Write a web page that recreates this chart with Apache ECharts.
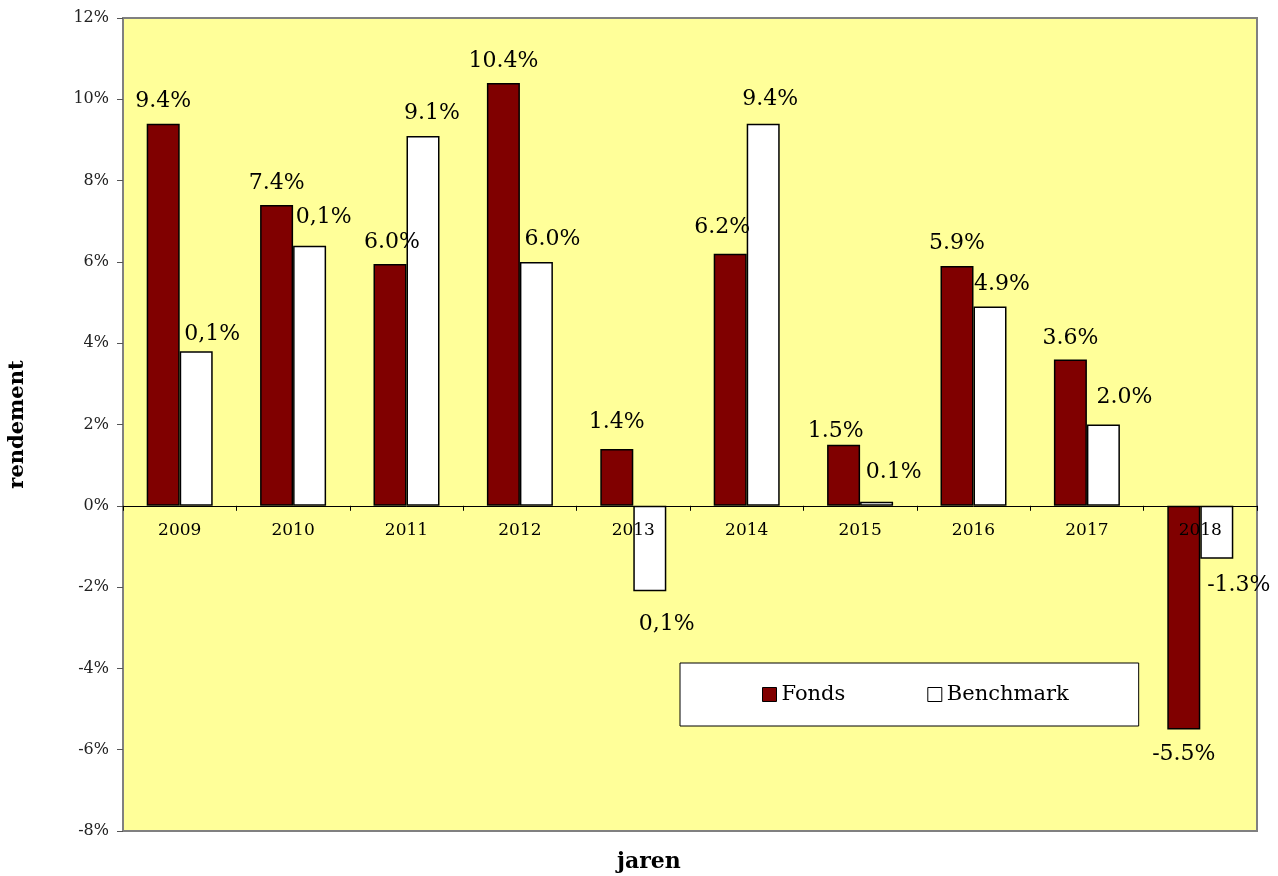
<!DOCTYPE html>
<html>
<head>
<meta charset="utf-8">
<script src="https://cdn.jsdelivr.net/npm/echarts@6/dist/echarts.min.js"></script>
<style>
html,body{margin:0;padding:0;background:#fff;}
#chart{width:1278px;height:876px;}
</style>
</head>
<body>
<div id="chart"></div>
<script>
// ---- data ----
const years = ['2009','2010','2011','2012','2013','2014','2015','2016','2017','2018'];
const fonds = [9.4, 7.4, 5.95, 10.4, 1.4, 6.2, 1.5, 5.9, 3.6, -5.5];
const benchmark = [3.8, 6.4, 9.1, 6.0, -2.1, 9.4, 0.1, 4.9, 2.0, -1.3];
const fondsLabels = ['9.4%','7.4%','6.0%','10.4%','1.4%','6.2%','1.5%','5.9%','3.6%','-5.5%'];
const benchLabels = ['0,1%','0,1%','9.1%','6.0%','0,1%','9.4%','0.1%','4.9%','2.0%','-1.3%'];
const yTicks = {min: -8, max: 12, interval: 2};

// label placement tweaks (layout only)
const fondsShift = [[0,0],[0,0],[2,0],[0,0],[0,-5],[-8,-4],[-8,8],[0,-1],[0,1],[0,3]];
const benchShift = [[16,5],[14,-6],[9,-1],[16,-1],[17,11],[7,-2],[17,-7],[12,0],[21,-5],[22,5]];

const FONT = '"DejaVu Serif", "Liberation Serif", serif';

function build(values, labels, shift) {
  return values.map((v, i) => ({
    value: v,
    label: {
      show: true,
      position: v < 0 ? 'bottom' : 'top',
      distance: 11,
      offset: shift[i],
      formatter: labels[i]
    }
  }));
}

const gridTop = 18, gridBottom = 45, chartH = 876;
const plotH = chartH - gridTop - gridBottom;
const zeroFromBottom = plotH * (0 - yTicks.min) / (yTicks.max - yTicks.min);

const chart = echarts.init(document.getElementById('chart'));
chart.setOption({
  backgroundColor: '#ffffff',
  animation: false,
  textStyle: {fontFamily: FONT},
  grid: {
    left: 123, right: 21, top: gridTop, bottom: gridBottom,
    containLabel: false, outerBoundsMode: 'none',
    show: true, backgroundColor: '#FFFF99', borderColor: '#808080', borderWidth: 2
  },
  legend: {
    left: 680, top: 663,
    padding: [21, 70, 21, 82],
    itemGap: 82,
    itemWidth: 14, itemHeight: 14,
    backgroundColor: '#ffffff',
    borderColor: '#000000', borderWidth: 1,
    textStyle: {fontFamily: FONT, fontSize: 21, color: '#000'},
    data: [
      {name: 'Fonds', icon: 'rect', itemStyle: {color: '#800000', borderColor: '#000', borderWidth: 1}},
      {name: 'Benchmark', icon: 'rect', itemStyle: {color: '#ffffff', borderColor: '#000', borderWidth: 1}}
    ]
  },
  xAxis: {
    type: 'category',
    data: years,
    z: 10,
    position: 'bottom',
    offset: -zeroFromBottom,
    axisLine: {onZero: false, lineStyle: {color: '#000', width: 1}},
    axisTick: {show: true, inside: false, length: 5, lineStyle: {color: '#000'}},
    axisLabel: {margin: 16, fontFamily: FONT, fontSize: 17, color: '#000'},
    splitLine: {show: false}
  },
  yAxis: {
    type: 'value',
    min: yTicks.min, max: yTicks.max, interval: yTicks.interval,
    axisLine: {show: true, lineStyle: {color: '#808080', width: 2}},
    axisTick: {show: true, length: 6, lineStyle: {color: '#555'}},
    axisLabel: {margin: 14, fontFamily: FONT, fontSize: 16, color: '#222', formatter: '{value}%'},
    splitLine: {show: false},
    name: 'rendement',
    nameLocation: 'middle',
    nameRotate: 90,
    nameGap: 95,
    nameTextStyle: {fontFamily: FONT, fontSize: 21, fontWeight: 'bold', color: '#000'}
  },
  graphic: [{
    type: 'text', left: 617, top: 851,
    style: {text: 'jaren', font: 'bold 22px ' + FONT, fill: '#000'}
  }],
  series: [
    {
      name: 'Fonds', type: 'bar',
      data: build(fonds, fondsLabels, fondsShift),
      barWidth: 33, barGap: '0%',
      itemStyle: {color: '#800000', borderColor: '#000', borderWidth: 1.5},
      label: {fontFamily: FONT, fontSize: 22, color: '#000'}
    },
    {
      name: 'Benchmark', type: 'bar',
      data: build(benchmark, benchLabels, benchShift),
      barWidth: 33, barGap: '0%',
      itemStyle: {color: '#ffffff', borderColor: '#000', borderWidth: 1.5},
      label: {fontFamily: FONT, fontSize: 22, color: '#000'}
    }
  ]
});
</script>
</body>
</html>
